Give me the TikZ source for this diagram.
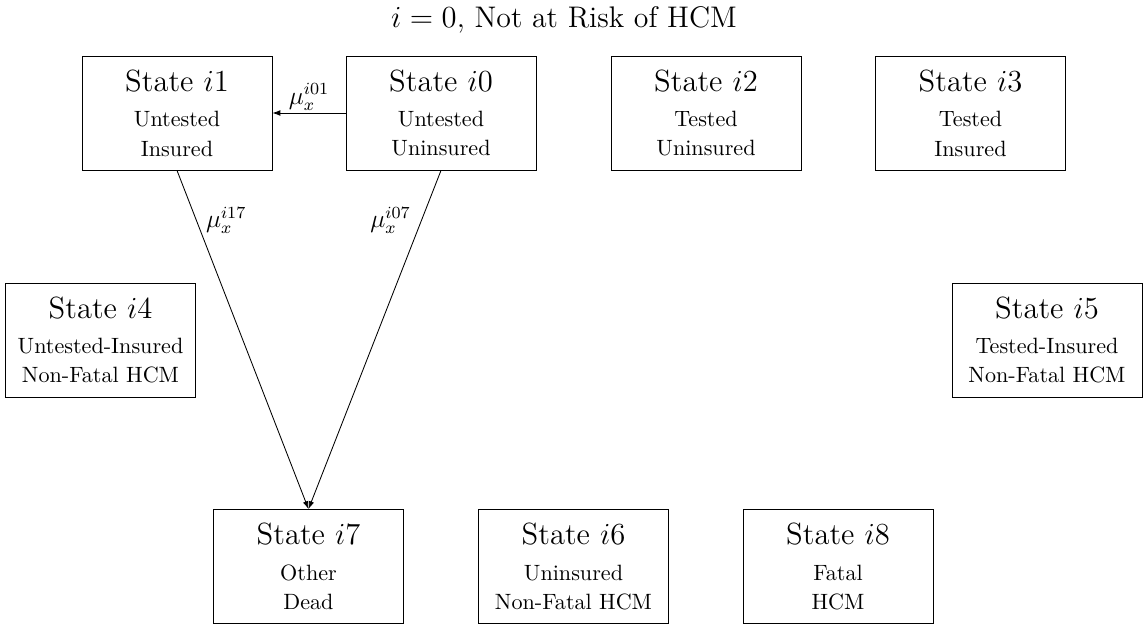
\documentclass[tikz,border=0pt]{standalone}
\usetikzlibrary{arrows.meta}
% three-line state label: large heading, then two descriptive lines
\newcommand\stlines[3]{{\Large State $i#1$}\\[4.2pt]#2\\[1.2pt]#3}
\begin{document}
\begin{tikzpicture}[x=0.47pt,y=-0.47pt,
  statebox/.style={draw, minimum width=89.3pt, minimum height=53.6pt,
    align=center, inner sep=0pt, font=\fontsize{10.4}{12.5}\selectfont},
  rate/.style={font=\large},
  trans/.style={-{Latex[length=3.7pt,width=2.7pt]}}]
\useasboundingbox (0,0) rectangle (1146,628);

\node[anchor=base, font=\fontsize{14}{17}\selectfont] (title) at (564,27) {$i=0$, Not at Risk of HCM};

% top row
\node[statebox] (i1) at (177,113)   {\stlines{1}{Untested}{Insured}};
\node[statebox] (i0) at (441,113)   {\stlines{0}{Untested}{Uninsured}};
\node[statebox] (i2) at (706,113)   {\stlines{2}{Tested}{Uninsured}};
\node[statebox] (i3) at (970.5,113) {\stlines{3}{Tested}{Insured}};

% middle row
\node[statebox] (i4) at (100.5,340) {\stlines{4}{Untested-Insured}{Non-Fatal HCM}};
\node[statebox] (i5) at (1047,340)  {\stlines{5}{Tested-Insured}{Non-Fatal HCM}};

% bottom row
\node[statebox] (i7) at (308.5,566.5) {\stlines{7}{Other}{Dead}};
\node[statebox] (i6) at (573.5,566.5) {\stlines{6}{Uninsured}{Non-Fatal HCM}};
\node[statebox] (i8) at (838,566.5)   {\stlines{8}{Fatal}{HCM}};

% transitions
\draw[trans] (i0.west) -- node[rate, above, inner sep=1pt] (r01) {$\mu_x^{i01}$} (i1.east);
\draw[trans] (i1.south) -- node[rate, pos=0.1475, right=1pt] (r17) {$\mu_x^{i17}$} (i7.north);
\draw[trans] (i0.south) -- node[rate, pos=0.1475, left=1.5pt] (r07) {$\mu_x^{i07}$} (i7.north);
\end{tikzpicture}
\end{document}
